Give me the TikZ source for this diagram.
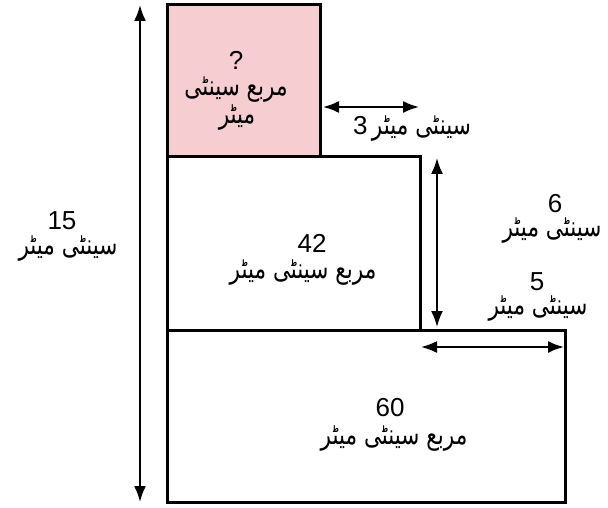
\documentclass[tikz,border=0pt]{standalone}
\usepackage{fontspec}
\usepackage{graphicx}
\setmainfont{Liberation Sans}
\newfontfamily\urdufont[Script=Arabic]{DejaVu Sans}
\TeXXeTstate=1
\usetikzlibrary{arrows.meta,positioning}
\definecolor{pinkfill}{RGB}{246, 205, 208}
\newcommand{\ur}[1]{\scalebox{0.77}[1]{\urdufont\fontsize{14}{16}\selectfont\beginR #1\endR}}
\tikzstyle{area} = [draw=black, line width=1.5pt, rectangle, inner sep=0pt, outer sep=0pt, anchor=north west]
\tikzstyle{dim} = [draw, line width=1pt, {Latex[length=8pt,width=6pt]}-{Latex[length=8pt,width=6pt]}]
\tikzstyle{textonly} = [draw=none, fill=none, align=center, font=\fontsize{13}{14}\selectfont, inner sep=0pt]

\begin{document}
\begin{tikzpicture}[x=0.5pt, y=-0.5pt]
\useasboundingbox (0,0) rectangle (608,507);

% areas =============================
\node[area, fill=pinkfill, minimum width=76.5pt, minimum height=76pt] (sq) at (167,5) {};
\node[area, minimum width=126.5pt, minimum height=86.5pt] (mid) at (167,157) {};
\node[area, minimum width=199pt, minimum height=86pt] (bot) at (167,330) {};

% labels in the areas
\node[textonly] (sqn) at (236,60) {?};
\node[textonly] (sqa) at (236,90) {\ur{مربع سینٹی}};
\node[textonly] (sqb) at (237,118) {\ur{میٹر}};
\node[textonly] (midn) at (312,243) {42};
\node[textonly] (mida) at (303,273) {\ur{مربع سینٹی میٹر}};
\node[textonly] (botn) at (390,408) {60};
\node[textonly] (bota) at (394,438) {\ur{مربع سینٹی میٹر}};

% labels of the sides
\node[textonly] (leftn) at (62,221) {15};
\node[textonly] (lefta) at (68,249) {\ur{سینٹی میٹر}};
\node[textonly] (threea) at (412,129) {3\,\ur{سینٹی میٹر}};
\node[textonly] (sixn) at (555,204) {6};
\node[textonly] (sixa) at (552,231) {\ur{سینٹی میٹر}};
\node[textonly] (fiven) at (537,282) {5};
\node[textonly] (fivea) at (538,309) {\ur{سینٹی میٹر}};

% dimension ends
\coordinate (lt) at (140,5);
\coordinate (lb) at (140,502);
\coordinate (tl) at (323,107);
\coordinate (tr) at (419,107);
\coordinate (vt) at (437,158);
\coordinate (vb) at (437,327);
\coordinate (hl) at (421,347);
\coordinate (hr) at (564,347);

%edges
\path[dim] (lt) -- (lb);
\path[dim] (tl) -- (tr);
\path[dim] (vt) -- (vb);
\path[dim] (hl) -- (hr);

\end{tikzpicture}
\end{document}
